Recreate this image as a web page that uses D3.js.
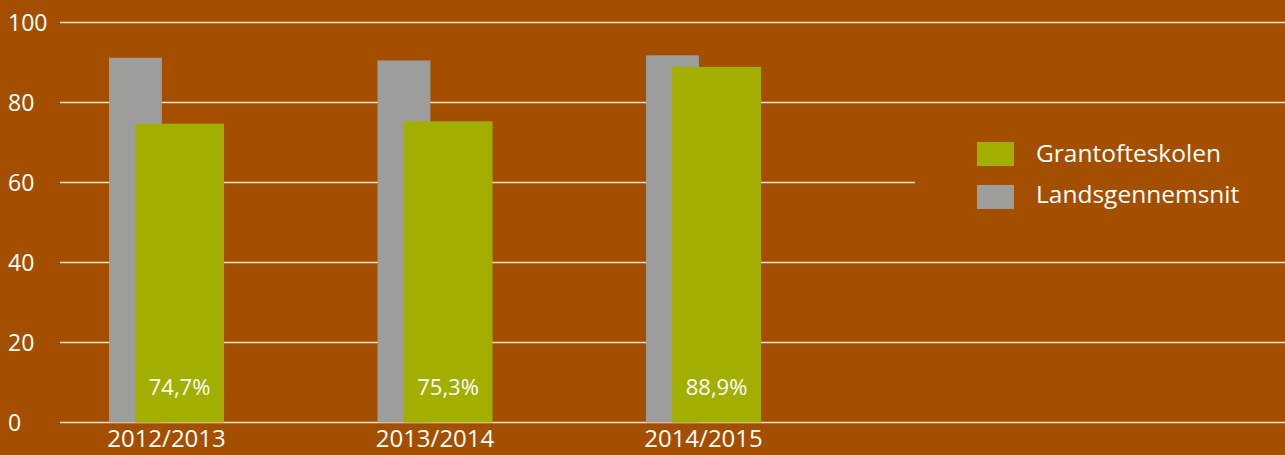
<!DOCTYPE html>
<html>
<head>
<meta charset="utf-8">
<script src="https://cdn.jsdelivr.net/npm/d3@7"></script>
<style>
  html, body { margin: 0; padding: 0; background: #a44f00; }
  svg text { font-family: "Open Sans", sans-serif; fill: #ffffff; }
</style>
</head>
<body>
<div id="chart"></div>
<script>
// data
const years = ["2012/2013", "2013/2014", "2014/2015"];
const schoolValues = [74.7, 75.3, 88.9];       // Grantofteskolen
const nationalValues = [91.2, 90.5, 91.8];     // Landsgennemsnit
const valueLabels = ["74,7%", "75,3%", "88,9%"];
const yTicks = [0, 20, 40, 60, 80, 100];
const seriesNames = ["Grantofteskolen", "Landsgennemsnit"];

const width = 1285, height = 455;
const bg = "#a44f00";
const green = "#a2af00";
const grey = "#9d9d9b";
const gridColor = "#f2e4d6";

var svg = d3.select("#chart")
    .append("svg")
    .attr("width", width)
    .attr("height", height);

svg.append("rect")
    .attr("width", width)
    .attr("height", height)
    .attr("fill", bg);

// y scale: 0 at bottom line, 100 at top line
const y = d3.scaleLinear()
    .domain([0, 100])
    .range([422.5, 22.5]);

// x band scale for the year groups
const step = 268.5;
const pIn = 1 - 115 / step;
const pOut = 49 / step;
const x0 = 60;
const x = d3.scaleBand()
    .domain(years)
    .range([x0, x0 + step * (years.length - pIn + 2 * pOut)])
    .paddingInner(pIn)
    .paddingOuter(pOut);

// inner positions within a group (grey behind, green in front)
const inner = d3.scaleLinear().domain([0, 1]).range([0, x.bandwidth()]);

// grid lines
svg.append("g")
    .selectAll("line")
    .data(yTicks)
    .enter()
    .append("line")
    .attr("x1", 60)
    .attr("x2", width)
    .attr("y1", d => y(d))
    .attr("y2", d => y(d))
    .attr("stroke", gridColor)
    .attr("stroke-width", 1.4);

// tick labels
svg.append("g")
    .selectAll("text")
    .data(yTicks)
    .enter()
    .append("text")
    .attr("x", 8)
    .attr("y", d => y(d))
    .attr("dy", "0.36em")
    .style("font-size", "23px")
    .text(d => d);

// grey bars
svg.append("g")
    .selectAll("rect")
    .data(years)
    .enter()
    .append("rect")
    .attr("x", d => x(d) + inner(0))
    .attr("width", inner(0.46))
    .attr("y", (d, i) => y(nationalValues[i]))
    .attr("height", (d, i) => y(0) - y(nationalValues[i]))
    .attr("fill", grey);

// green bars
svg.append("g")
    .selectAll("rect")
    .data(years)
    .enter()
    .append("rect")
    .attr("x", d => x(d) + inner(0.227))
    .attr("width", inner(1) - inner(0.227))
    .attr("y", (d, i) => y(schoolValues[i]))
    .attr("height", (d, i) => y(0) - y(schoolValues[i]))
    .attr("fill", green);

// value labels inside green bars
svg.append("g")
    .selectAll("text")
    .data(years)
    .enter()
    .append("text")
    .attr("x", d => x(d) + (inner(0.227) + inner(1)) / 2)
    .attr("y", 395)
    .attr("text-anchor", "middle")
    .style("font-size", "22px")
    .text((d, i) => valueLabels[i]);

// category labels
svg.append("g")
    .selectAll("text")
    .data(years)
    .enter()
    .append("text")
    .attr("x", d => x(d) + x.bandwidth() / 2)
    .attr("y", 447)
    .attr("text-anchor", "middle")
    .style("font-size", "24px")
    .text(d => d);

// legend (its background hides the 60 line on the right)
const legend = svg.append("g").attr("class", "legend");
legend.append("rect")
    .attr("x", 915)
    .attr("y", 120)
    .attr("width", width - 915)
    .attr("height", 110)
    .attr("fill", bg);

const legendColors = [green, grey];
legend.selectAll("rect.key")
    .data(seriesNames)
    .enter()
    .append("rect")
    .attr("class", "key")
    .attr("x", 977)
    .attr("y", (d, i) => 142 + i * 43)
    .attr("width", 37)
    .attr("height", 24)
    .attr("fill", (d, i) => legendColors[i]);

legend.selectAll("text")
    .data(seriesNames)
    .enter()
    .append("text")
    .attr("x", 1036)
    .attr("y", (d, i) => 162 + i * 41)
    .style("font-size", "24.5px")
    .text(d => d);
</script>
</body>
</html>
